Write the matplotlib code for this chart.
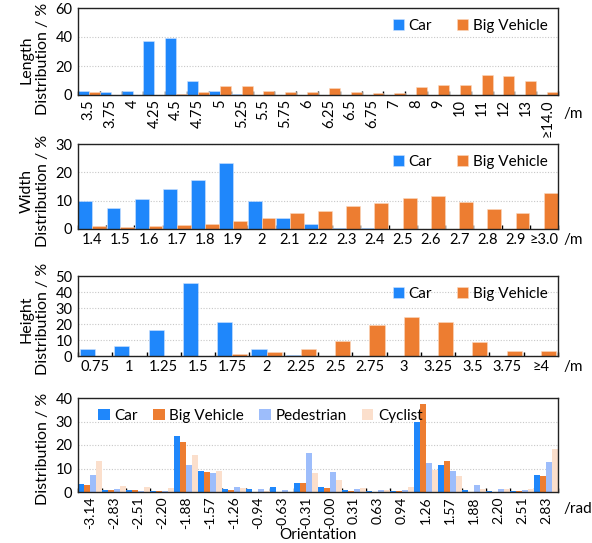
import numpy as np
import matplotlib
matplotlib.use("Agg")
import matplotlib.pyplot as plt

C_CAR, C_BIG, C_PED, C_CYC = "#1f87fb", "#ed7d31", "#9dbdfb", "#fbdfcc"

len_cats = ["3.5", "3.75", "4", "4.25", "4.5", "4.75", "5", "5.25", "5.5", "5.75", "6", "6.25",
            "6.5", "6.75", "7", "8", "9", "10", "11", "12", "13", "≥14.0"]
len_car = [2.5, 1.8, 3.0, 37.0, 39.0, 9.5, 3.0, 1.0, 0, 0, 0, 0, 0, 0, 0, 0, 0, 0, 0, 0, 0, 0]
len_big = [2.0, 0.3, 0, 0, 0.5, 2.0, 6.0, 6.5, 3.0, 2.0, 1.8, 4.8, 2.0, 1.3, 1.7, 5.3, 7.0, 7.0,
           13.7, 13.3, 10.0, 2.3]

wid_cats = ["1.4", "1.5", "1.6", "1.7", "1.8", "1.9", "2", "2.1", "2.2", "2.3", "2.4", "2.5",
            "2.6", "2.7", "2.8", "2.9", "≥3.0"]
wid_car = [10.0, 7.4, 10.7, 14.1, 17.3, 23.2, 9.8, 4.0, 1.8, 0.5, 0.2, 0, 0, 0, 0, 0, 0]
wid_big = [1.2, 0.8, 1.2, 1.4, 1.8, 2.8, 3.8, 5.5, 6.2, 8.1, 9.1, 11.1, 11.8, 9.4, 7.1, 5.5, 12.8]

hei_cats = ["0.75", "1", "1.25", "1.5", "1.75", "2", "2.25", "2.5", "2.75", "3", "3.25", "3.5",
            "3.75", "≥4"]
hei_car = [4.1, 6.4, 16.5, 45.9, 21.3, 4.3, 0.5, 0, 0, 0, 0, 0, 0, 0]
hei_big = [0, 0, 0, 0.2, 1.4, 2.7, 4.3, 9.5, 19.6, 24.6, 21.5, 8.7, 3.1, 3.1]

ori_cats = ["-3.14", "-2.83", "-2.51", "-2.20", "-1.88", "-1.57", "-1.26", "-0.94", "-0.63",
            "-0.31", "-0.00", "0.31", "0.63", "0.94", "1.26", "1.57", "1.88", "2.20", "2.51", "2.83"]
ori_car = [3.3, 0.7, 0.7, 0.5, 23.9, 8.9, 1.1, 1.3, 2.3, 4.0, 2.0, 0.9, 0.6, 0.6, 30.0, 11.7,
           0.7, 0.5, 0.5, 7.4]
ori_big = [2.8, 1.0, 0.7, 0.5, 21.3, 8.4, 0.7, 0, 0, 3.7, 1.6, 0.6, 0, 0.5, 37.4, 13.0,
           0.2, 0, 0.3, 6.6]
ori_ped = [7.3, 1.1, 0.5, 0.6, 11.4, 8.1, 2.1, 1.1, 0.7, 16.7, 8.3, 1.1, 0.7, 1.0, 12.4, 9.0,
           3.1, 1.4, 1.0, 12.7]
ori_cyc = [13.1, 2.4, 2.0, 1.7, 15.7, 8.9, 1.7, 0.3, 0.2, 7.9, 4.9, 1.7, 1.0, 2.0, 9.4, 6.7,
           1.3, 1.1, 1.3, 18.1]

plt.rcParams.update({"font.family": ["Lato", "DejaVu Sans"], "font.size": 10.5})

W, H = 592, 543
fig = plt.figure(figsize=(W / 100, H / 100), dpi=100)


def axes_px(top, bottom, left=78, right=558):
    return fig.add_axes([left / W, 1 - bottom / H, (right - left) / W, (bottom - top) / H])


def style(ax, cats, ymax, ystep, ylabel, rot, unit, unit_y, label_y):
    n = len(cats)
    ax.set_xlim(-0.5, n - 0.5)
    ax.set_ylim(0, ymax)
    ax.set_yticks(np.arange(0, ymax + 1, ystep))
    ax.set_xticks(np.arange(n))
    ax.set_xticklabels(cats, rotation=rot)
    ax.set_xticks(np.arange(n + 1) - 0.5, minor=True)
    ax.tick_params(axis="x", which="major", length=0, pad=3)
    ax.tick_params(axis="x", which="minor", direction="in", length=3, width=1, color="black")
    ax.tick_params(axis="y", length=0, pad=4)
    ax.grid(axis="y", color="#c8c8c8", ls=(0, (1, 1.5)), lw=0.8)
    ax.set_axisbelow(True)
    for s in ax.spines.values():
        s.set_color("#222222")
        s.set_linewidth(1.0)
    ax.set_ylabel(ylabel, linespacing=1.2, labelpad=4, fontsize=11.5)
    ax.yaxis.label.set_y(label_y)
    ax.text(1.012, unit_y, unit, transform=ax.transAxes, ha="left", va="center", fontsize=11)


def legend(ax):
    ax.legend(loc="upper right", ncol=2, frameon=False, handlelength=0.75,
              handleheight=0.75, handletextpad=0.3, columnspacing=1.6, borderaxespad=0.3,
              fontsize=11)


def pair(ax, car, big, w):
    x = np.arange(len(car))
    ax.bar(x - w / 2, car, w, color=C_CAR, edgecolor="#cfe3ff", lw=0.4, label="Car")
    ax.bar(x + w / 2, big, w, color=C_BIG, edgecolor="#fbd9c0", lw=0.4, label="Big Vehicle")


ax1 = axes_px(8, 95)
pair(ax1, len_car, len_big, 0.5)
style(ax1, len_cats, 60, 20, "Length\nDistribution / %", 90, "/m", -0.22, 0.41)
legend(ax1)

ax2 = axes_px(144, 229)
pair(ax2, wid_car, wid_big, 0.49)
style(ax2, wid_cats, 30, 10, "Width\nDistribution / %", 0, "/m", -0.13, 0.45)
legend(ax2)

ax3 = axes_px(276, 356)
pair(ax3, hei_car, hei_big, 0.44)
style(ax3, hei_cats, 50, 10, "Height\nDistribution / %", 0, "/m", -0.14, 0.46)
legend(ax3)

ax4 = axes_px(398, 492)
x = np.arange(len(ori_cats))
w = 0.24
for k, (vals, col, lab) in enumerate([(ori_car, C_CAR, "Car"), (ori_big, C_BIG, "Big Vehicle"),
                                      (ori_ped, C_PED, "Pedestrian"), (ori_cyc, C_CYC, "Cyclist")]):
    ax4.bar(x + (k - 1.5) * w, vals, w, color=col, label=lab)
style(ax4, ori_cats, 40, 10, "Distribution / %", 90, "/rad", -0.18, 0.46)
ax4.tick_params(axis="x", which="major", labelsize=10)
ax4.legend(loc="upper left", ncol=4, frameon=False, handlelength=0.75, handleheight=0.75,
           handletextpad=0.3, columnspacing=1.0, borderaxespad=0.3, fontsize=11,
           bbox_to_anchor=(0.02, 1.0))
fig.text(0.5 * (78 + 558) / W, 1 - 535 / H, "Orientation", ha="center", va="center", fontsize=11)

fig.savefig("out.png", dpi=100)
